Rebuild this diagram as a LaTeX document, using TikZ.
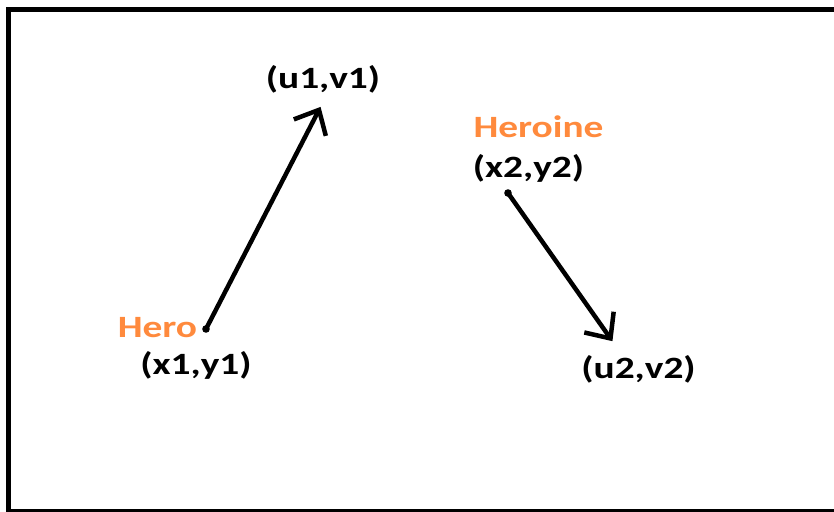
\documentclass[tikz,border=0pt]{standalone}
\usepackage{fontspec}
\setmainfont{Carlito}
\usetikzlibrary{arrows.meta}
\definecolor{heroorange}{HTML}{FF8A3D}
\tikzset{
  lbl/.style={inner sep=0pt, font=\fontsize{31}{31}\selectfont\bfseries, xscale=1.27, transform shape, text=black},
  name lbl/.style={lbl, text=heroorange},
  move/.style={line width=4.5pt, -{Straight Barb[length=20pt,width=36pt,line width=4.5pt]}, shorten >=1pt},
  frame/.style={line width=5pt, draw=black}
}
\begin{document}
\begin{tikzpicture}[x=1pt,y=-1pt]
\useasboundingbox (0,0) rectangle (834,511);
\begin{scope}
\clip (0,0) rectangle (834,511);
\draw[frame] (840,10) -- (8,10) -- (8,511) -- (840,511);
\end{scope}
\node[name lbl] (hero) at (157.5,328) {Hero};
\node[lbl] (xy1) at (196,365) {(x1,y1)};
\node[lbl] (uv1) at (323,79) {(u1,v1)};
\node[name lbl] (heroine) at (538.5,127) {Heroine};
\node[lbl] (xy2) at (528.5,168) {(x2,y2)};
\node[lbl] (uv2) at (638.5,369) {(u2,v2)};
\coordinate (p1) at (206,329);
\coordinate (q1) at (321,106);
\coordinate (p2) at (508,193);
\coordinate (q2) at (613,342);
\fill (p1) circle (3.8pt);
\fill (p2) circle (3.8pt);
\draw[move] (p1) -- (q1);
\draw[move] (p2) -- (q2);
\end{tikzpicture}
\end{document}
